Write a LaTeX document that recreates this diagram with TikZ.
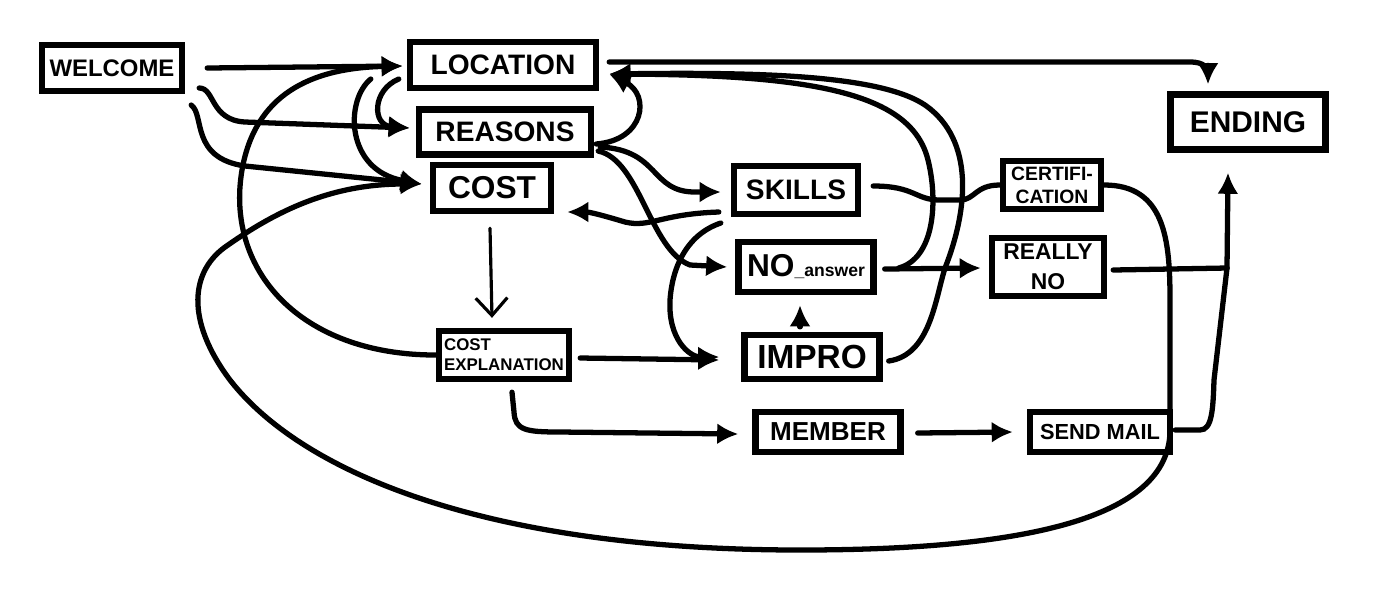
\documentclass[tikz,border=0pt]{standalone}
\usepackage{fontspec}
\setmainfont{Liberation Sans}
\usetikzlibrary{arrows.meta,calc}
\newcommand{\txtsize}[2]{\fontsize{#1}{#2}\selectfont}

\begin{document}
\begin{tikzpicture}[x=0.01cm,y=-0.01cm,
    line width=1.5pt, line cap=round,
    >={Latex[length=6pt,width=6pt]},
    box/.style={draw,line width=1.8pt,inner sep=1pt,align=center},
    thinline/.style={line width=0.9pt}]
    \useasboundingbox (0,0) rectangle (1400,611);

    \node[box,minimum width=1.40cm,minimum height=0.46cm,font=\bfseries\txtsize{6.8}{8}] (welcome) at (112,68) {WELCOME};
    \node[box,minimum width=1.86cm,minimum height=0.46cm,font=\bfseries\txtsize{8}{10}] (location) at (503,65) {LOCATION};
    \node[box,minimum width=1.72cm,minimum height=0.45cm,font=\bfseries\txtsize{8}{10}] (reasons) at (505,132) {REASONS};
    \node[box,minimum width=1.18cm,minimum height=0.46cm,font=\bfseries\txtsize{9}{10}] (cost) at (492,188) {COST};
    \node[box,minimum width=1.30cm,minimum height=0.48cm,font=\bfseries\txtsize{4.8}{5.6},align=left] (costexpl) at (504,355) {COST\\EXPLANATION};
    \node[box,minimum width=1.24cm,minimum height=0.48cm,font=\bfseries\txtsize{8}{10}] (skills) at (796,190) {SKILLS};
    \node[box,minimum width=1.35cm,minimum height=0.50cm,font=\bfseries] (noanswer) at (806,267) {\txtsize{9}{10}NO{\txtsize{5}{6}\_answer}};
    \node[box,minimum width=1.35cm,minimum height=0.44cm,font=\bfseries\txtsize{9.5}{10}] (impro) at (812,357) {IMPRO};
    \node[box,minimum width=1.45cm,minimum height=0.40cm,font=\bfseries\txtsize{7.4}{9}] (member) at (828,432) {MEMBER};
    \node[box,minimum width=1.40cm,minimum height=0.40cm,font=\bfseries\txtsize{6.2}{8}] (sendmail) at (1100,432) {SEND MAIL};
    \node[box,minimum width=0.98cm,minimum height=0.48cm,font=\bfseries\txtsize{5.5}{6.5}] (certif) at (1052,185) {CERTIFI-\\CATION};
    \node[box,minimum width=1.12cm,minimum height=0.58cm,font=\bfseries\txtsize{6.5}{8.5}] (reallyno) at (1048,267) {REALLY\\NO};
    \node[box,minimum width=1.55cm,minimum height=0.55cm,font=\bfseries\txtsize{8.5}{10}] (ending) at (1248,122) {ENDING};
    \coordinate (endjoin) at (1227,268);

    \draw[->] ($(welcome.east)+(22,0)$) -- ($(location.west)+(-4,1)$);
    \draw[->] ($(welcome.east)+(14,20)$) .. controls (215,88) and (210,120) .. (245,122) -- ($(reasons.west)+(-6,-4)$);
    \draw[->] ($(welcome.east)+(6,37)$) .. controls (205,115) and (190,158) .. (245,166) -- ($(cost.west)+(-8,-4)$);
    \draw[->] ($(location.east)+(10,-3)$) -- (1190,62) .. controls (1205,62) and (1208,68) .. (1208,76) -- ($(ending.north)+(-40,-7)$);

    \draw[->] ($(reasons.east)+(2,12)$) .. controls (645,140) and (650,95) .. ($(location.east)+(10,9)$);
    \draw[->] ($(location.west)+(-8,14)$) .. controls (372,90) and (372,125) .. ($(reasons.west)+(-6,-4)$);
    \draw[->] ($(location.west)+(-36,14)$) .. controls (345,100) and (345,170) .. ($(cost.west)+(-8,-4)$);
    \draw[->] (costexpl.west) .. controls (300,355) and (225,270) .. (242,170) .. controls (255,95) and (310,68) .. ($(location.west)+(-4,1)$);
    \draw[->] (certif.east) .. controls (1165,185) and (1170,240) .. (1170,300) -- (1170,430) .. controls (1170,520) and (1020,550) .. (800,550) .. controls (480,550) and (300,470) .. (230,380) .. controls (185,320) and (190,270) .. (228,245) .. controls (275,212) and (330,184) .. ($(cost.west)+(-8,-4)$);

    \draw[->] ($(skills.west)+(-12,22)$) .. controls (660,214) and (650,228) .. (625,222) .. controls (605,216) and (590,212) .. ($(cost.east)+(13,24)$);
    \draw[->] ($(skills.west)+(-10,33)$) .. controls (685,235) and (672,270) .. (670,300) .. controls (668,340) and (690,357) .. ($(impro.west)+(-22,0)$);
    \draw[->] ($(reasons.east)+(6,15)$) .. controls (660,150) and (650,192) .. (695,192) -- ($(skills.west)+(-10,2)$);
    \draw[->] ($(reasons.east)+(4,19)$) .. controls (640,160) and (650,250) .. (690,265) -- ($(noanswer.west)+(-8,0)$);
    \draw[->] ($(impro.north)+(-12,-5)$) -- ($(noanswer.south)+(-6,10)$);
    \draw[->] ($(noanswer.east)+(8,2)$) -- ($(reallyno.west)+(-8,1)$);
    \draw[->] ($(noanswer.east)+(22,1)$) .. controls (935,258) and (938,200) .. (928,160) .. controls (912,95) and (820,75) .. ($(location.east)+(10,9)$);
    \draw[->] ($(impro.east)+(6,4)$) .. controls (930,355) and (935,300) .. (945,268) .. controls (968,210) and (975,140) .. (925,105) .. controls (880,75) and (760,72) .. ($(location.east)+(10,9)$);
    \draw ($(skills.east)+(12,-4)$) .. controls (915,186) and (915,200) .. (940,200) -- (960,200) .. controls (975,200) and (975,185) .. (certif.west);

    \draw ($(reallyno.east)+(6,3)$) -- (endjoin);
    \draw[->] (endjoin) -- ($(ending.south)+(-20,20)$);
    \draw ($(sendmail.east)+(2,-2)$) -- (1200,430) .. controls (1212,430) and (1213,410) .. (1214,380) -- (endjoin);

    \draw[thinline,-{Straight Barb[length=5pt,width=9pt]}] ($(cost.south)+(-2,14)$) -- ($(costexpl.north)+(-12,-10)$);
    \draw[->] ($(costexpl.east)+(8,3)$) -- ($(impro.west)+(-22,3)$);
    \draw[->] ($(costexpl.south)+(8,10)$) -- (514,412) .. controls (515,430) and (525,432) .. (560,432) -- ($(member.west)+(-14,2)$);
    \draw[->] ($(member.east)+(14,1)$) -- ($(sendmail.west)+(-14,0)$);

\end{tikzpicture}
\end{document}
